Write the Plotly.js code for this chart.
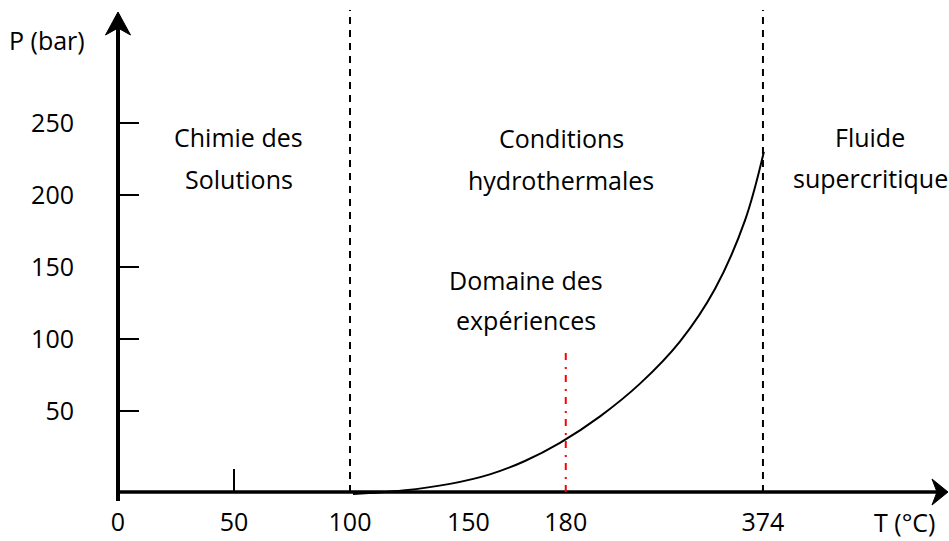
<!DOCTYPE html>
<html>
<head>
<meta charset="utf-8">
<script src="https://cdn.plot.ly/plotly-3.0.1.min.js"></script>
<style>html,body{margin:0;padding:0;background:#fff;}#chart{width:949px;height:541px;}</style>
</head>
<body>
<div id="chart"></div>
<script>
// ---- Data read from the schematic ----
// Temperature tick labels and their (schematic, non-linear) position along the T axis
const tempLabels = ['0', '50', '100', '150', '180', '374'];
const tempPos    = [0, 50, 100, 151, 193, 278];
// Pressure ticks (bar)
const pressureTicks = [50, 100, 150, 200, 250];
// Liquid-vapour equilibrium curve (schematic position along T axis, pressure in bar)
const curveX = [101.3, 122.8, 143.1, 160.3, 175.4, 190.5, 207.8, 225.0, 242.2, 257.3, 270.3, 278.4];
const curveP = [-7.6, -5.2, -0.6, 6.0, 15.3, 27.9, 46.3, 69.0, 98.2, 134.7, 182.6, 230.1];
// Domain boundaries (dashed) and experiment temperature (red)
const boundaryTemps = ['100', '374'];
const experimentTemp = '180';
const experimentTopP = 91;
// Region labels
const regionLines = [
  ['Chimie des', 'Solutions'],
  ['Conditions', 'hydrothermales'],
  ['Domaine des', 'expériences'],
  ['Fluide', 'supercritique']
];
const yTitle = 'P (bar)';
const xTitle = 'T (°C)';

// ---- Layout helpers ----
const W = 949, H = 541;
const FONT = 'Open Sans, sans-serif';
const FS = 25;
const posOf = t => tempPos[tempLabels.indexOf(t)];
const xr = [-50.86, 358.19];
const yr = [-40.28, 335.42];
const axisY = -6.25;          // where the drawn T axis sits
const topY = 328.5;           // top of dashed boundaries
const px2x = p => xr[0] + (p / W) * (xr[1] - xr[0]);
const py2y = p => yr[1] - (p / H) * (yr[1] - yr[0]);

const shapes = [];
// T axis line + arrowhead
shapes.push({type: 'line', xref: 'x', yref: 'y', x0: 0, x1: px2x(937), y0: axisY, y1: axisY,
  line: {color: 'black', width: 3.5}});
const tipX = px2x(948), backX = px2x(932), notchX = px2x(937);
const hh = 13 * (yr[1] - yr[0]) / H;
shapes.push({type: 'path', xref: 'x', yref: 'y',
  path: `M ${tipX},${axisY} L ${backX},${axisY + hh} L ${notchX},${axisY} L ${backX},${axisY - hh} Z`,
  fillcolor: 'black', line: {color: 'black', width: 1}});
// P axis line + arrowhead
shapes.push({type: 'line', xref: 'x', yref: 'y', x0: 0, x1: 0, y0: py2y(501), y1: py2y(27),
  line: {color: 'black', width: 4}});
const hw = 12.5 * (xr[1] - xr[0]) / W;
shapes.push({type: 'path', xref: 'x', yref: 'y',
  path: `M 0,${py2y(12)} L ${hw},${py2y(35)} L 0,${py2y(28)} L ${-hw},${py2y(35)} Z`,
  fillcolor: 'black', line: {color: 'black', width: 1}});
// single tick mark at 50 on T axis
shapes.push({type: 'line', xref: 'x', yref: 'y', x0: posOf('50'), x1: posOf('50'), y0: axisY, y1: py2y(469),
  line: {color: 'black', width: 2}});
// dashed boundaries
boundaryTemps.forEach(t => shapes.push({type: 'line', xref: 'x', yref: 'y',
  x0: posOf(t), x1: posOf(t), y0: axisY, y1: topY,
  line: {color: 'black', width: 2, dash: '7px,6px'}}));
// red experiment line
shapes.push({type: 'line', xref: 'x', yref: 'y',
  x0: posOf(experimentTemp), x1: posOf(experimentTemp), y0: axisY, y1: experimentTopP,
  line: {color: '#ff0000', width: 2, dash: '7px,6px,2px,7px'}});

// text annotations
const ann = (text, cx, cy) => ({text, xref: 'paper', yref: 'paper', x: cx / W, y: 1 - cy / H,
  xanchor: 'center', yanchor: 'middle', showarrow: false, font: {family: FONT, size: FS, color: 'black'}});
const regionCenters = [[239, 137, 179], [561, 138, 180], [526, 280, 320], [870, 137, 178]];
const annotations = [];
regionLines.forEach((lines, i) => {
  const [cx, y1, y2] = regionCenters[i];
  annotations.push(ann(lines[0], cx, y1));
  annotations.push(ann(lines[1], cx, y2));
});
annotations.push(ann(yTitle, 47, 40));
annotations.push(ann(xTitle, 904, 522));

const trace = {x: curveX, y: curveP, type: 'scatter', mode: 'lines',
  line: {color: 'black', width: 2, shape: 'spline', smoothing: 1}, hoverinfo: 'skip', showlegend: false};

const layout = {
  width: W, height: H,
  margin: {l: 0, r: 0, t: 0, b: 0, pad: 0},
  paper_bgcolor: 'white', plot_bgcolor: 'white',
  showlegend: false,
  xaxis: {range: xr, anchor: 'free', position: 1 - 492 / H, showline: false, zeroline: false, showgrid: false,
    tickmode: 'array', tickvals: tempPos, ticktext: tempLabels, ticks: '', ticklabelstandoff: 13,
    tickfont: {family: FONT, size: FS, color: 'black'}, fixedrange: true},
  yaxis: {range: yr, anchor: 'free', position: 118 / W, showline: false, zeroline: false, showgrid: false,
    tickmode: 'array', tickvals: pressureTicks, ticks: 'inside', ticklen: 20, tickwidth: 2, tickcolor: 'black',
    ticklabelstandoff: 44, tickfont: {family: FONT, size: FS, color: 'black'}, fixedrange: true},
  shapes, annotations
};
Plotly.newPlot('chart', [trace], layout, {displayModeBar: false, staticPlot: true});
</script>
</body>
</html>
